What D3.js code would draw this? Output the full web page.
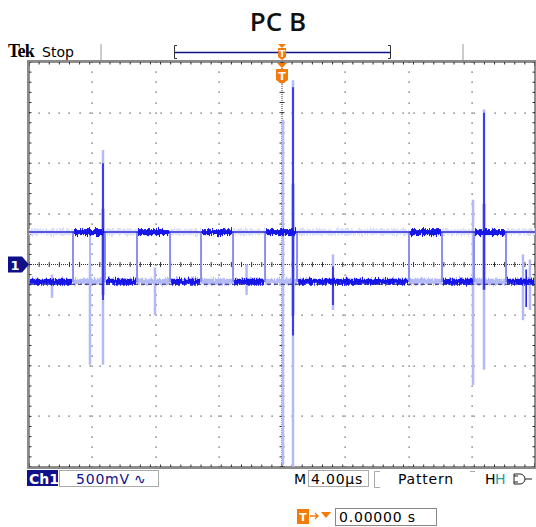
<!DOCTYPE html>
<html>
<head>
<meta charset="utf-8">
<script src="https://cdn.jsdelivr.net/npm/d3@7"></script>
<style>
body { margin: 0; background: #fff; }
svg { display: block; }
</style>
</head>
<body>
<svg id="chart" width="536" height="527"></svg>
<script>
// Ch1 capture: time in microseconds, level in volts (500mV/div, 4us/div)
const edgeTimes = [-16.52, -13.99, -11.46, -8.85, -6.40, -3.87, -1.34, 1.19, 10.04, 12.65, 15.18, 17.71]
const highV = 0.32
const lowV = -0.17
const refLowV = -0.195
// spikes on the latest acquisition: [time, top, bottom]
const darkSpikes = [[-14.15, 1.0, -0.35], [0.87, 1.75, -0.7], [4.03, -0.02, -0.4], [15.97, 1.5, -0.25], [19.3, -0.05, -0.42]]
// glow round the big spikes: [time, top, bottom]
const spikeGlow = [[-14.15, 0.55, -0.3], [0.87, 0.8, -0.5], [15.97, 0.6, -0.25]]
// persistence (older acquisitions)
const ghostSpikes = [[-18.18, -0.1, -0.33], [-15.18, 0.02, -0.99], [-14.15, 1.13, -0.99], [-10.04, -0.03, -0.5],
    [-2.8, 0.0, -0.3], [0.08, 1.43, -1.98], [0.87, 1.82, -2.0], [4.03, 0.1, -0.45], [15.1, 0.64, -1.19],
    [15.97, 1.53, -1.04], [19.05, 0.1, -0.55], [19.6, 0.05, -0.45]]
const ghostEdges = [-15.18, -14.15]
const labels = { ch: 'Ch1', volts: '500mV', time: '4.00µs', trig: 'Pattern', pos: '0.00000 s' }

const svg = d3.select('#chart')
const gLeft = 29, gRight = 535, gTop = 62, gBottom = 467
const x = d3.scaleLinear().domain([-20, 20]).range([gLeft, gRight])
const y = d3.scaleLinear().domain([-2, 2]).range([gBottom, gTop])

const blue = '#1414e6'
const ghost = '#b4b9f7'
const orange = '#f47a0a'
const navy = '#10108a'

// noise filter: vertical jitter only
const defs = svg.append('defs')
const jitter = defs.append('filter').attr('id', 'jitter')
    .attr('filterUnits', 'userSpaceOnUse').attr('x', 0).attr('y', 0).attr('width', 536).attr('height', 527)
jitter.append('feTurbulence').attr('type', 'fractalNoise').attr('baseFrequency', '0.9 0.15')
    .attr('numOctaves', 2).attr('seed', 3).attr('result', 'n')
jitter.append('feColorMatrix').attr('in', 'n').attr('type', 'matrix')
    .attr('values', '0 0 0 0 0.5  0 1 0 0 0  0 0 0 0 0  0 0 0 0 1').attr('result', 'm')
jitter.append('feDisplacementMap').attr('in', 'SourceGraphic').attr('in2', 'm')
    .attr('scale', 7).attr('xChannelSelector', 'R').attr('yChannelSelector', 'G')

// header
svg.append('text').attr('x', 278).attr('y', 31).attr('text-anchor', 'middle')
    .style('font', '600 26px "Open Sans"').attr('fill', '#111').text('PC B')
svg.append('text').attr('x', 8).attr('y', 57)
    .style('font', 'bold 18px "Liberation Serif"').attr('letter-spacing', -0.8).text('Tek')
svg.append('text').attr('x', 42).attr('y', 57)
    .style('font', '14px "DejaVu Sans"').text('Stop')
svg.selectAll('line.div').data([101, 463]).enter().append('line')
    .attr('x1', d => d).attr('x2', d => d).attr('y1', 44).attr('y2', 61)
    .attr('stroke', '#999').attr('stroke-width', 1)
svg.append('line').attr('x1', 175).attr('x2', 391).attr('y1', 52.5).attr('y2', 52.5)
    .attr('stroke', navy).attr('stroke-width', 1.5)
svg.append('path').attr('d', 'M177,45.5H174.5V58.5H177 M388,45.5H390.5V58.5H388')
    .attr('fill', 'none').attr('stroke', '#333').attr('stroke-width', 1)

// graticule
const g = svg.append('g')
const xMinor = d3.range(-20, 20.001, 0.8)
const yMinor = d3.range(-2, 2.001, 0.1)
const xMajor = x.ticks(10)
const yMajor = y.ticks(8)
const isMajorX = d => xMajor.some(t => Math.abs(t - d) < 1e-6)
const dots = []
xMajor.filter(t => t !== 0 && Math.abs(t) !== 20).forEach(t => yMinor.forEach(v => dots.push([x(t), y(v)])))
yMajor.filter(v => v !== 0 && Math.abs(v) !== 2).forEach(v => xMinor.forEach(t => dots.push([x(t), y(v)])))
g.selectAll('rect.dot').data(dots).enter().append('rect')
    .attr('x', d => Math.round(d[0]) - 0.5).attr('y', d => Math.round(d[1]) - 0.5)
    .attr('width', 1.2).attr('height', 1.2).attr('fill', '#444')
// centre cross
g.append('line').attr('x1', gLeft).attr('x2', gRight).attr('y1', y(0)).attr('y2', y(0))
    .attr('stroke', '#333').attr('stroke-dasharray', '1,1')
g.append('line').attr('x1', x(0)).attr('x2', x(0)).attr('y1', gTop).attr('y2', gBottom)
    .attr('stroke', '#333').attr('stroke-dasharray', '1,1')
g.selectAll('line.cx').data(xMinor).enter().append('line')
    .attr('x1', d => x(d)).attr('x2', d => x(d)).attr('y1', y(0) - 2.5).attr('y2', y(0) + 2.5)
    .attr('stroke', '#333')
g.selectAll('line.cy').data(yMinor).enter().append('line')
    .attr('y1', d => y(d)).attr('y2', d => y(d)).attr('x1', x(0) - 2.5).attr('x2', x(0) + 2.5)
    .attr('stroke', '#333')
// border ticks
g.selectAll('line.bt').data(xMinor).enter().append('line')
    .attr('x1', d => x(d)).attr('x2', d => x(d)).attr('y1', gTop).attr('y2', d => gTop + (isMajorX(d) ? 4 : 2.5))
    .attr('stroke', '#333')
g.selectAll('line.bb').data(xMinor).enter().append('line')
    .attr('x1', d => x(d)).attr('x2', d => x(d)).attr('y1', gBottom).attr('y2', d => gBottom - (isMajorX(d) ? 4 : 2.5))
    .attr('stroke', '#333')
g.selectAll('line.bl').data(yMinor).enter().append('line')
    .attr('y1', d => y(d)).attr('y2', d => y(d)).attr('x1', gLeft).attr('x2', gLeft + 2.5)
    .attr('stroke', '#333')
g.selectAll('line.br').data(yMinor).enter().append('line')
    .attr('y1', d => y(d)).attr('y2', d => y(d)).attr('x1', gRight).attr('x2', gRight - 2.5)
    .attr('stroke', '#333')
g.append('rect').attr('x', gLeft - 1).attr('y', gTop - 1).attr('width', gRight - gLeft + 2).attr('height', gBottom - gTop + 2)
    .attr('fill', 'none').attr('stroke', '#8a8a8a').attr('stroke-width', 2)
g.append('rect').attr('x', gLeft + 0.5).attr('y', gTop + 0.5).attr('width', gRight - gLeft - 1).attr('height', gBottom - gTop - 1)
    .attr('fill', 'none').attr('stroke', '#222').attr('stroke-dasharray', '1,1')

// waveform
const plot = svg.append('g')
const segs = d3.pairs([-20, ...edgeTimes, 20]).map((p, i) => ({ t0: p[0], t1: p[1], v: i % 2 ? highV : lowV }))

// persistence layer
const pg = plot.append('g').attr('filter', 'url(#jitter)')
pg.selectAll('line.gl').data(segs).enter().append('line')
    .attr('x1', d => x(d.t0)).attr('x2', d => x(d.t1))
    .attr('y1', d => y(d.v === highV ? lowV : highV)).attr('y2', d => y(d.v === highV ? lowV : highV))
    .attr('stroke', d => d.v === highV ? ghost : '#dcdffb').attr('stroke-width', 6)
pg.selectAll('line.ge').data([...edgeTimes, ...ghostEdges]).enter().append('line')
    .attr('x1', d => x(d)).attr('x2', d => x(d)).attr('y1', y(highV)).attr('y2', y(lowV))
    .attr('stroke', ghost).attr('stroke-width', 2)
plot.selectAll('line.gs').data(ghostSpikes).enter().append('line')
    .attr('x1', d => x(d[0])).attr('x2', d => x(d[0])).attr('y1', d => y(d[1])).attr('y2', d => y(d[2]))
    .attr('stroke', ghost).attr('stroke-width', 2.5)
plot.selectAll('line.glow').data(spikeGlow).enter().append('line')
    .attr('x1', d => x(d[0])).attr('x2', d => x(d[0])).attr('y1', d => y(d[1])).attr('y2', d => y(d[2]))
    .attr('stroke', '#8c92f2').attr('stroke-width', 4).attr('opacity', 0.5)

// reference lines
plot.append('line').attr('x1', gLeft).attr('x2', gRight).attr('y1', y(highV)).attr('y2', y(highV))
    .attr('stroke', '#2a2ad2').attr('stroke-width', 1.5)
plot.append('line').attr('x1', gLeft).attr('x2', gRight).attr('y1', y(refLowV)).attr('y2', y(refLowV))
    .attr('stroke', '#222266').attr('stroke-width', 1.2).attr('stroke-dasharray', '4,3')

// latest acquisition
const line = d3.line().x(d => x(d[0])).y(d => y(d[1]))
const pts = []
segs.forEach(s => { pts.push([s.t0, s.v]); pts.push([s.t1, s.v]) })
plot.append('path').datum(pts).attr('d', line).attr('fill', 'none')
    .attr('stroke', blue).attr('stroke-width', 1).attr('opacity', 0.5)
plot.append('g').attr('filter', 'url(#jitter)').selectAll('line.dk').data(segs).enter().append('line')
    .attr('x1', d => x(d.t0) + 1).attr('x2', d => x(d.t1) - 1).attr('y1', d => y(d.v)).attr('y2', d => y(d.v))
    .attr('stroke', blue).attr('stroke-width', 6)
plot.selectAll('line.ds').data(darkSpikes).enter().append('line')
    .attr('x1', d => x(d[0])).attr('x2', d => x(d[0])).attr('y1', d => y(d[1])).attr('y2', d => y(d[2]))
    .attr('stroke', blue).attr('stroke-width', 1.5)

// channel marker
svg.append('path').attr('d', `M8,${y(0) - 8}H22L29,${y(0)}L22,${y(0) + 8}H8Z`).attr('fill', navy)
svg.append('text').attr('x', 15).attr('y', y(0) + 5).attr('text-anchor', 'middle')
    .style('font', 'bold 13px "DejaVu Sans"').attr('fill', '#fff').text('1')

// trigger markers
const tx = x(0)
svg.append('path').attr('d', `M${tx - 4},44H${tx + 4}L${tx},48Z M${tx - 4},48H${tx + 4}V57L${tx},60L${tx - 4},57Z`).attr('fill', orange)
svg.append('text').attr('x', tx).attr('y', 57).attr('text-anchor', 'middle')
    .style('font', 'bold 9px "DejaVu Sans"').attr('fill', '#fff').text('T')
svg.append('path').attr('d', `M${tx - 5},63H${tx + 5}L${tx},68Z M${tx - 6},69H${tx + 6}V80L${tx},84L${tx - 6},80Z`).attr('fill', orange)
svg.append('text').attr('x', tx).attr('y', 80).attr('text-anchor', 'middle')
    .style('font', 'bold 11px "DejaVu Sans"').attr('fill', '#fff').text('T')

// status bar
const font = '14px "DejaVu Sans"'
svg.append('rect').attr('x', 27).attr('y', 470).attr('width', 31).attr('height', 16).attr('fill', navy)
svg.append('text').attr('x', 29).attr('y', 484).style('font', 'bold 14px "DejaVu Sans"').attr('fill', '#fff').text(labels.ch)
svg.append('rect').attr('x', 59.5).attr('y', 470.5).attr('width', 99).attr('height', 16).attr('fill', 'none').attr('stroke', '#aaa')
svg.append('text').attr('x', 76).attr('y', 484).style('font', font).attr('fill', navy).attr('letter-spacing', 0.8).text(labels.volts)
svg.append('text').attr('x', 134).attr('y', 484).style('font', font).attr('fill', navy).text('∿')
svg.append('text').attr('x', 294).attr('y', 484).style('font', font).text('M')
svg.append('rect').attr('x', 308.5).attr('y', 470.5).attr('width', 60).attr('height', 16).attr('fill', 'none').attr('stroke', '#aaa')
svg.append('text').attr('x', 311).attr('y', 484).style('font', font).attr('letter-spacing', 0.8).text(labels.time)
svg.append('path').attr('d', 'M380,471.5H374.5V487.5H380 M470,471.5H475').attr('fill', 'none').attr('stroke', '#aaa')
svg.append('text').attr('x', 398).attr('y', 484).style('font', font).attr('letter-spacing', 0.8).text(labels.trig)
svg.append('text').attr('x', 485).attr('y', 484).style('font', font).text('H')
svg.append('text').attr('x', 495).attr('y', 484).style('font', font).attr('fill', '#20a0a0').text('H')
svg.append('path').attr('d', 'M514,474H520A5,5 0 0 1 520,484H514Z M514,476H518 M514,482H518 M525,479H532')
    .attr('fill', 'none').attr('stroke', '#222').attr('stroke-width', 1)

// trigger position
svg.append('rect').attr('x', 297).attr('y', 509).attr('width', 12).attr('height', 15).attr('fill', orange)
svg.append('text').attr('x', 303).attr('y', 521).attr('text-anchor', 'middle').style('font', 'bold 11px "DejaVu Sans"').attr('fill', '#fff').text('T')
svg.append('path').attr('d', 'M310,516H318 M315,513L318,516L315,519').attr('fill', 'none').attr('stroke', orange).attr('stroke-width', 1.3)
svg.append('path').attr('d', 'M321,512H331L326,518Z').attr('fill', orange)
svg.append('rect').attr('x', 335.5).attr('y', 508.5).attr('width', 101).attr('height', 17).attr('fill', 'none').attr('stroke', '#888')
svg.append('text').attr('x', 339).attr('y', 522).style('font', font).attr('letter-spacing', 0.8).text(labels.pos)
</script>
</body>
</html>
